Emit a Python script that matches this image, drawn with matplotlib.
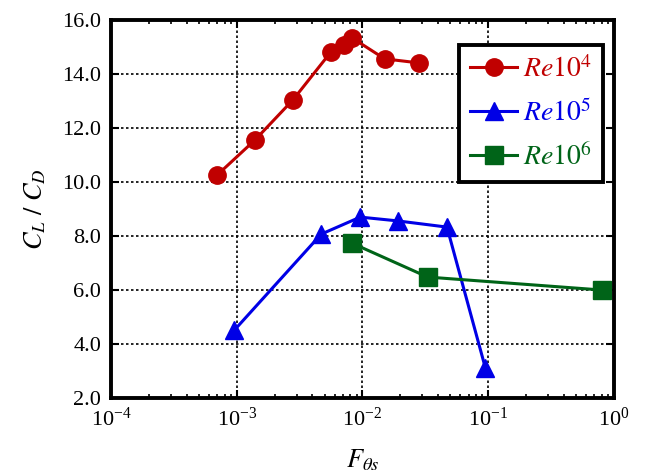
import numpy as np
import matplotlib
matplotlib.use('Agg')
import matplotlib.pyplot as plt
from matplotlib.ticker import LogLocator, LogFormatterMathtext, MultipleLocator, NullFormatter

plt.rcParams['font.family'] = ['Liberation Serif', 'DejaVu Serif']
plt.rcParams['mathtext.fontset'] = 'stix'

# Re 10^4
x_re4 = [7.0e-4, 1.4e-3, 2.8e-3, 5.6e-3, 7.1e-3, 8.3e-3, 1.5e-2, 2.8e-2]
y_re4 = [10.26, 11.56, 13.04, 14.81, 15.07, 15.33, 14.56, 14.41]
# Re 10^5
x_re5 = [9.6e-4, 4.7e-3, 9.6e-3, 1.9e-2, 4.7e-2, 9.5e-2]
y_re5 = [4.52, 8.07, 8.70, 8.56, 8.33, 3.11]
# Re 10^6
x_re6 = [8.2e-3, 3.3e-2, 0.8]
y_re6 = [7.74, 6.48, 6.0]

labels = [r'$\it{Re}\mathrm{10}^{4}$', r'$\it{Re}\mathrm{10}^{5}$', r'$\it{Re}\mathrm{10}^{6}$']
colors = ['#c00000', '#0000e6', '#006418']

fig = plt.figure(figsize=(6.49, 4.75), dpi=100)
ax = fig.add_axes([0.171, 0.162, 0.775, 0.796])

ax.plot(x_re4, y_re4, '-o', color=colors[0], lw=2.2, ms=12.5, label=labels[0])
ax.plot(x_re5, y_re5, '-^', color=colors[1], lw=2.2, ms=12.5, label=labels[1])
ax.plot(x_re6, y_re6, '-s', color=colors[2], lw=2.2, ms=12.5, label=labels[2])

ax.set_xscale('log')
ax.set_xlim(1e-4, 1)
ax.set_ylim(2, 16)
ax.xaxis.set_major_locator(LogLocator(base=10, numticks=10))
ax.xaxis.set_minor_locator(LogLocator(base=10, subs=np.arange(2, 10), numticks=10))
ax.xaxis.set_minor_formatter(NullFormatter())
ax.xaxis.set_major_formatter(LogFormatterMathtext())
ax.yaxis.set_major_locator(MultipleLocator(2))
ax.yaxis.set_major_formatter(matplotlib.ticker.FormatStrFormatter('%.1f'))

ax.grid(True, which='major', ls=(0, (1.5, 1.5)), color='black', lw=1.2)
ax.tick_params(which='both', direction='in', top=True, right=True, labelsize=16, pad=7)
ax.tick_params(which='major', length=6, width=1.5)
ax.tick_params(which='minor', length=3, width=1.2)
for s in ax.spines.values():
    s.set_linewidth(2.8)

ax.set_xlabel(r'$F_{\theta s}$', fontsize=19, labelpad=12)
ax.set_ylabel(r'$C_L\ /\ C_D$', fontsize=19, labelpad=10)

leg = ax.legend(loc='upper right', bbox_to_anchor=(0.978, 0.935), fontsize=20,
                fancybox=False, framealpha=1, edgecolor='black',
                handlelength=1.7, borderpad=0.4, labelspacing=0.6, handletextpad=0.2,
                borderaxespad=0.0)
leg.get_frame().set_linewidth(2.8)
for t, c in zip(leg.get_texts(), colors):
    t.set_color(c)

fig.savefig('out.png', dpi=100)
